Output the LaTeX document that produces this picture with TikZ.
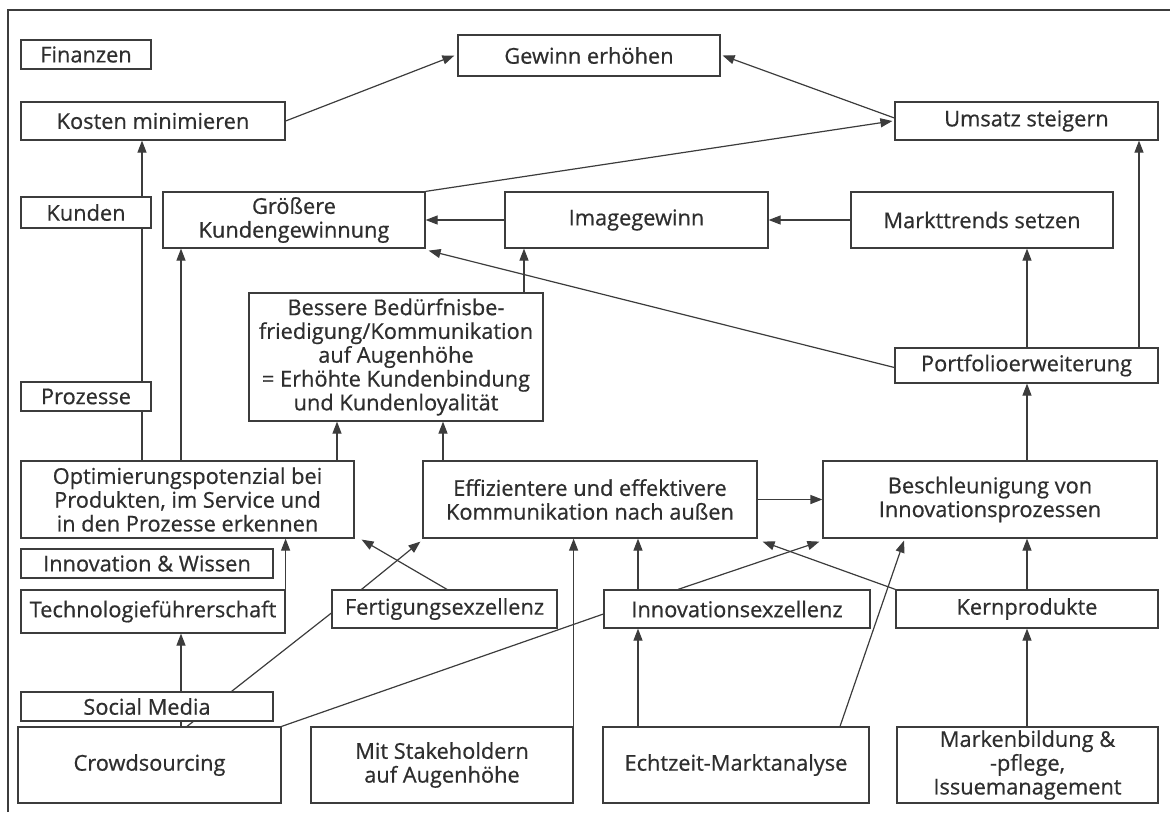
\documentclass[tikz,border=0pt]{standalone}
\usepackage{fontspec}
\setmainfont{Open Sans}[FakeBold=0.6]
\usetikzlibrary{arrows.meta,backgrounds}
\definecolor{lncol}{HTML}{3C3C3C}
\definecolor{txcol}{HTML}{2E2E2E}
\begin{document}
\begin{tikzpicture}[x=1pt,y=-1pt,
  box/.style={draw=lncol, line width=1.2pt, fill=white, text=txcol, align=center, inner sep=0pt,
    font=\fontsize{21.8}{23.8}\selectfont},
  arr/.style={draw=lncol, line width=1.2pt, -{Triangle[length=12pt,width=9pt]}},
  con/.style={draw=lncol, line width=1.2pt}]
\useasboundingbox (0,0) rectangle (1170,812);
\draw[lncol, line width=1.3pt] (8,812) -- (8,10) -- (1170,10);
% nodes
\node[box, minimum width=130pt, minimum height=29pt] (fin) at (86,54.5) {Finanzen};
\node[box, minimum width=262pt, minimum height=41pt] (gew) at (589,55.5) {Gewinn erhöhen};
\node[box, minimum width=264pt, minimum height=38pt] (kos) at (153,121) {Kosten minimieren};
\node[box, minimum width=263pt, minimum height=38pt] (ums) at (1026.5,121) {Umsatz steigern};
\node[box, minimum width=130pt, minimum height=31pt] (kun) at (86,212.5) {Kunden};
\node[box, minimum width=262pt, minimum height=56pt] (gro) at (294,220) {Größere\\Kundengewinnung};
\node[box, minimum width=263pt, minimum height=56pt] (img) at (636.5,220) {Imagegewinn};
\node[box, minimum width=262pt, minimum height=56pt] (mkt) at (982,220) {Markttrends setzen};
\node[box, minimum width=294pt, minimum height=128pt] (bes) at (396,357) {Bessere Bedürfnisbe-\\friedigung/Kommunikation\\auf Augenhöhe\\= Erhöhte Kundenbindung\\und Kundenloyalität};
\node[box, minimum width=263pt, minimum height=35pt] (por) at (1026.5,365.5) {Portfolioerweiterung};
\node[box, minimum width=130pt, minimum height=29pt] (pro) at (86,396.5) {Prozesse};
\node[box, minimum width=333pt, minimum height=77pt] (opt) at (187.5,499.5) {Optimierungspotenzial bei\\Produkten, im Service und\\in den Prozesse erkennen};
\node[box, minimum width=334pt, minimum height=77pt] (eff) at (590,499.5) {Effizientere und effektivere\\Kommunikation nach außen};
\node[box, minimum width=334pt, minimum height=77pt] (bsc) at (990,499.5) {Beschleunigung von\\Innovationsprozessen};
\node[box, minimum width=252pt, minimum height=29pt] (inw) at (147,563.5) {Innovation \& Wissen};
\node[box, minimum width=264pt, minimum height=43pt] (tec) at (153,611.5) {Technologieführerschaft};
\node[box, minimum width=225pt, minimum height=38pt] (fer) at (444.5,609) {Fertigungsexzellenz};
\node[box, minimum width=266pt, minimum height=38pt] (inx) at (737,609) {Innovationsexzellenz};
\node[box, minimum width=262pt, minimum height=38pt] (ker) at (1027,609) {Kernprodukte};
\node[box, minimum width=252pt, minimum height=29pt] (soc) at (147,706.5) {Social Media};
\node[box, minimum width=263pt, minimum height=76pt] (cro) at (149.5,765) {Crowdsourcing};
\node[box, minimum width=262pt, minimum height=76pt] (mit) at (442,765) {Mit Stakeholdern\\auf Augenhöhe};
\node[box, minimum width=266pt, minimum height=76pt] (ech) at (736,765) {Echtzeit-Marktanalyse};
\node[box, minimum width=261pt, minimum height=76pt] (mar) at (1027.5,765) {Markenbildung \&\\-pflege,\\Issuemanagement};
% x positions
\coordinate (x142) at (142,0);
\coordinate (x181) at (181,0);
\coordinate (x186) at (187,0);
\coordinate (x337) at (337,0);
\coordinate (x443) at (443,0);
\coordinate (x524) at (524,0);
\coordinate (x638) at (638,0);
\coordinate (x1139) at (1139,0);
\begin{pgfonlayer}{background}
\draw[arr] (kos.east) -- ([xshift=-3pt]gew.west);
\draw[arr] ([yshift=3pt]ums.west) -- ([xshift=2pt]gew.east);
\draw[arr] (gro.north east) -- ([xshift=-2pt]ums.west);
\draw[arr] (mkt.west) -- (img.east);
\draw[arr] (img.west) -- (gro.east);
\draw[arr] ([yshift=-2pt]por.west) -- ([xshift=3pt,yshift=-2pt]gro.south east);
\draw[arr] (bes.north -| x524) -- (img.south -| x524);
\draw[arr] (opt.north -| x142) -- (kos.south -| x142);
\draw[arr] (opt.north -| x181) -- (gro.south -| x181);
\draw[arr] (opt.north -| x337) -- (bes.south -| x337);
\draw[arr] (eff.north -| x443) -- (bes.south -| x443);
\draw[arr] (tec.north east) -- (opt.south -| tec.north east);
\draw[arr] (cro.north -| x181) -- (tec.south -| x181);
\draw[con] (cro.north -| x186) -- ([yshift=-4pt]fer.west);
\draw[con] (cro.north east) -- ([yshift=-5pt]inx.west);
\draw[arr] (mit.north east) -- (eff.south -| mit.north east);
\draw[arr] ([xshift=2.5pt]fer.north) -- ([xshift=7pt,yshift=-1pt]opt.south east);
\draw[arr] ([xshift=-83pt]fer.north) -- ([xshift=-2pt,yshift=-3pt]eff.south west);
\draw[arr] (inx.north -| x638) -- (eff.south -| x638);
\draw[arr] (ech.north -| x638) -- (inx.south -| x638);
\draw[arr] ([xshift=-59pt]inx.north) -- ([xshift=-3pt,yshift=-3pt]bsc.south west);
\draw[arr] (ker.north west) -- ([xshift=5pt,yshift=-3pt]eff.south east);
\draw[arr] ([xshift=104pt]ech.north) -- ([xshift=-86pt,yshift=-2pt]bsc.south);
\draw[arr] (ker.north) -- (bsc.south -| ker.north);
\draw[arr] (mar.north -| ker.north) -- (ker.south);
\draw[arr] (bsc.north -| ker.north) -- (por.south -| ker.north);
\draw[arr] (por.north -| ker.north) -- (mkt.south -| ker.north);
\draw[arr] (por.north -| x1139) -- (ums.south -| x1139);
\draw[arr] (eff.east) -- (bsc.west);
\end{pgfonlayer}
\end{tikzpicture}
\end{document}
